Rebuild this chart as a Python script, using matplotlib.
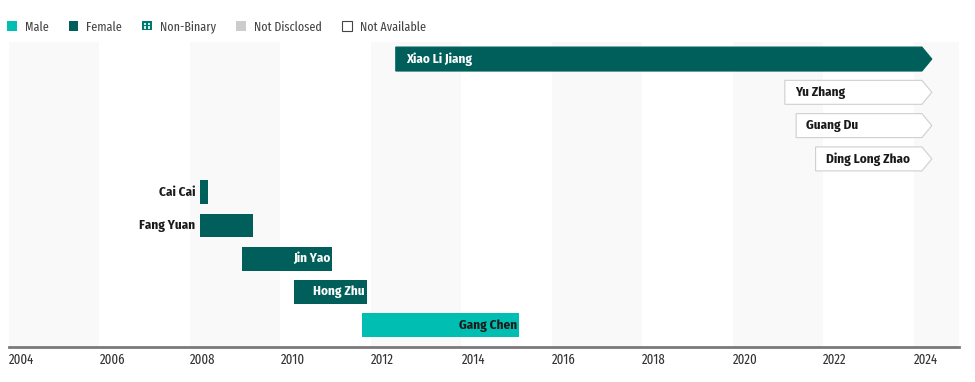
import matplotlib
matplotlib.use("Agg")
import matplotlib.pyplot as plt
from matplotlib.patches import Patch, Polygon, Rectangle
from matplotlib.legend_handler import HandlerBase

cond = ['Fira Sans Condensed', 'Liberation Sans Narrow', 'DejaVu Sans']
xcond = ['Fira Sans Extra Condensed', 'Liberation Sans Narrow', 'DejaVu Sans']
plt.rcParams['font.family'] = cond

names = ["Xiao Li Jiang", "Yu Zhang", "Guang Du", "Ding Long Zhao",
         "Cai Cai", "Fang Yuan", "Jin Yao", "Hong Zhu", "Gang Chen"]
starts = [2012.55, 2021.15, 2021.40, 2021.83, 2008.22, 2008.22, 2009.15, 2010.30, 2011.80]
ends = [2024.40, 2024.40, 2024.40, 2024.40, 2008.40, 2009.39, 2011.14, 2011.91, 2015.27]
genders = ["Female", "Not Available", "Not Available", "Not Available",
           "Female", "Female", "Female", "Female", "Male"]
ongoing = [True, True, True, True, False, False, False, False, False]
years = list(range(2004, 2025, 2))

colors = {"Male": "#00bfb2", "Female": "#005f5a", "Non-Binary": "#007a6e",
          "Not Disclosed": "#cccccc", "Not Available": "#ffffff"}
text_on = {"Male": "#1a1a1a", "Female": "white", "Not Available": "#1a1a1a"}


class WindowBox(HandlerBase):
    # teal square with four light panes, used for the Non-Binary key
    def create_artists(self, legend, orig, x0, y0, w, h, fs, trans):
        arts = [Rectangle((x0, y0), w, h, fc=colors["Non-Binary"], ec="none", transform=trans)]
        p = w * 0.18
        q = (w - 3 * p) / 2
        for dx in (p, 2 * p + q):
            for dy in (p, 2 * p + q):
                arts.append(Rectangle((x0 + dx, y0 + dy * h / w), q, q * h / w,
                                      fc="#cdeee9", ec="none", transform=trans))
        return arts


fig = plt.figure(figsize=(9.75, 3.82), dpi=100)
ax = fig.add_axes([9 / 975, 35 / 382, 950 / 975, 304.6 / 382])
ax.set_xlim(2004, 2025)
ax.set_ylim(8.65, -0.5)

# alternating background bands
for y0 in years[::2]:
    ax.axvspan(y0, y0 + 2, color="#f9f9f9", zorder=0, lw=0)

h = 0.72
head = 0.22
lab = dict(va="center", fontsize=9.5, fontweight="bold", family=cond, zorder=3)
for i, (nm, s, e, g, og) in enumerate(zip(names, starts, ends, genders, ongoing)):
    edge = "#cfcfcf" if g == "Not Available" else colors[g]
    if og:
        pts = [(s, i - h / 2), (e - head, i - h / 2), (e, i), (e - head, i + h / 2), (s, i + h / 2)]
        ax.add_patch(Polygon(pts, closed=True, facecolor=colors[g], edgecolor=edge, lw=0.8, zorder=2))
        ax.text(s + 0.22, i, nm, ha="left", color=text_on[g], **lab)
    else:
        ax.barh(i, e - s, left=s, height=h, color=colors[g], zorder=2)
        if e - s > 1.4:
            ax.text(e - 0.04, i, nm, ha="right", color=text_on[g], **lab)
        else:
            ax.text(s - 0.1, i, nm, ha="right", color="#1a1a1a", **lab)

for sp in ["top", "right", "left"]:
    ax.spines[sp].set_visible(False)
ax.spines["bottom"].set_color("#7a7a7a")
ax.spines["bottom"].set_linewidth(2)
ax.set_yticks([])
ax.set_xticks(years)
ax.set_xticklabels([str(y) for y in years], ha="left", fontsize=10, color="#333333", family=xcond)
ax.tick_params(axis="x", length=0, pad=4)

nb = Patch(label="Non-Binary")
handles = [
    Patch(facecolor=colors["Male"], edgecolor="none", label="Male"),
    Patch(facecolor=colors["Female"], edgecolor="none", label="Female"),
    nb,
    Patch(facecolor=colors["Not Disclosed"], edgecolor="none", label="Not Disclosed"),
    Patch(facecolor="white", edgecolor="#444444", lw=0.8, label="Not Available"),
]
fig.legend(handles=handles, loc="center left", bbox_to_anchor=(7 / 975, 1 - 27 / 382), ncol=5,
           frameon=False, prop={"family": xcond, "size": 9.4}, handlelength=0.75, handleheight=0.75,
           handletextpad=0.6, columnspacing=1.55, labelcolor="#444444",
           borderpad=0, borderaxespad=0, handler_map={nb: WindowBox()})

fig.savefig("out.png", dpi=100)
